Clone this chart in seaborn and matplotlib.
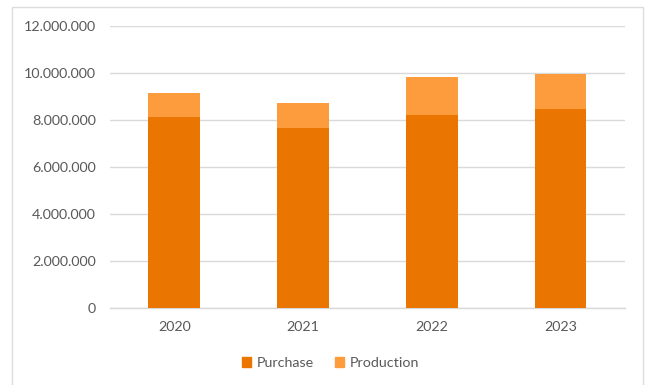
import matplotlib
matplotlib.use("Agg")
import matplotlib.pyplot as plt
from matplotlib.patches import Rectangle
from matplotlib.ticker import FuncFormatter
import pandas as pd
import seaborn as sns

# Yearly volumes split into purchased and produced quantities
years = ["2020", "2021", "2022", "2023"]
purchase = [8110000, 7670000, 8210000, 8480000]
production = [1050000, 1040000, 1620000, 1460000]

series_names = ["Purchase", "Production"]
colors = ["#EA7500", "#FD9C3C"]
text_color = "#595959"
grid_color = "#D9D9D9"

sns.set_theme(style="white")
plt.rcParams["font.family"] = ["Lato", "DejaVu Sans"]

df = pd.DataFrame({"year": years, "purchase": purchase, "production": production})
df["total"] = df["purchase"] + df["production"]

fig = plt.figure(figsize=(6.46, 3.85), dpi=100)
ax = fig.add_axes([0.170, 0.200, 0.7975, 0.7325])

# Stacked bars: the full height in the production colour, purchase drawn over it
sns.barplot(data=df, x="year", y="total", color=colors[1], width=0.4,
            saturation=1, linewidth=0, ax=ax, zorder=3)
sns.barplot(data=df, x="year", y="purchase", color=colors[0], width=0.4,
            saturation=1, linewidth=0, ax=ax, zorder=4)

ax.set_ylim(0, 12000000)
ax.set_yticks(range(0, 12000001, 2000000))
ax.yaxis.set_major_formatter(FuncFormatter(lambda v, _: f"{int(v):,}".replace(",", ".")))
ax.set_xlim(-0.5, len(years) - 0.5)
ax.set_xlabel("")
ax.set_ylabel("")

ax.grid(axis="y", color=grid_color, linewidth=1.0, zorder=0)
for side in ["top", "right", "left"]:
    ax.spines[side].set_visible(False)
ax.spines["bottom"].set_color(grid_color)
ax.spines["bottom"].set_linewidth(1.0)

ax.tick_params(axis="y", length=0, pad=10, labelsize=10.3, labelcolor=text_color)
ax.tick_params(axis="x", length=0, pad=9.5, labelsize=10.3, labelcolor=text_color)

handles = [Rectangle((0, 0), 1, 1, color=c) for c in colors]
fig.legend(handles, series_names, loc="center", bbox_to_anchor=(0.512, 0.057),
           ncol=2, frameon=False, fontsize=10.3, labelcolor=text_color,
           handlelength=0.6, handleheight=0.6, handletextpad=0.4, columnspacing=1.5)

# Light frame around the whole chart
fig.patches.append(Rectangle((12 / 646, -5 / 385), 631 / 646, 383 / 385,
                             transform=fig.transFigure, fill=False,
                             edgecolor="#DDDDDD", linewidth=1.0))

fig.savefig("out.png", dpi=100)
